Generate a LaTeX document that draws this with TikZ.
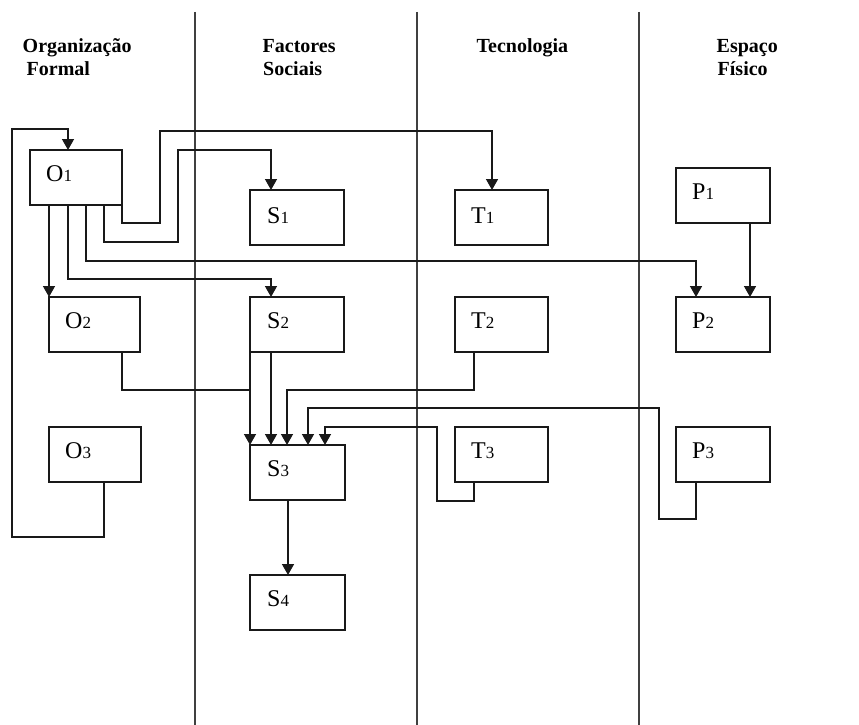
\documentclass[tikz,border=0pt]{standalone}
\usepackage{fontspec}
\setmainfont{Liberation Serif}
\usetikzlibrary{calc,arrows.meta}

% small digit set on the letter's baseline, as in O1, S2, ...
\newcommand{\subdig}[1]{{\fontsize{17}{17}\selectfont #1}}

\tikzset{
  box/.style={draw=black!90, line width=1.4pt, inner sep=0pt, outer sep=0pt,
              minimum height=55pt, anchor=north west},
  lbl/.style={inner sep=0pt, anchor=base west, font=\fontsize{24}{24}\selectfont},
  head/.style={inner sep=0pt, anchor=base west, font=\fontsize{20}{23}\selectfont\bfseries},
  conn/.style={draw=black!90, line width=1.5pt},
  arr/.style={conn, -{Triangle[width=12pt,length=11pt]}},
  lane/.style={draw=black!75, line width=1.6pt}
}

\begin{document}
\begin{tikzpicture}[x=1pt,y=-1pt]
\useasboundingbox (0,0) rectangle (859,725);

% lane separators
\coordinate (L1t) at (195,12);  \coordinate (L1b) at (195,725);
\coordinate (L2t) at (417,12);  \coordinate (L2b) at (417,725);
\coordinate (L3t) at (639,12);  \coordinate (L3b) at (639,725);
\draw[lane] (L1t) -- (L1b);
\draw[lane] (L2t) -- (L2b);
\draw[lane] (L3t) -- (L3b);

% lane headings
\node[head] (h1a) at (22.5,52.3) {Organização};
\node[head] (h1b) at (26.5,75) {Formal};
\node[head] (h2a) at (262.5,52.3) {Factores};
\node[head] (h2b) at (263,75) {Sociais};
\node[head] (h3a) at (476.5,52.3) {Tecnologia};
\node[head] (h4a) at (716.5,52.3) {Espaço};
\node[head] (h4b) at (717.5,75) {Físico};

% boxes
\node[box, minimum width=92pt] (O1) at (30,150) {};
\node[box, minimum width=91pt] (O2) at (49,297) {};
\node[box, minimum width=92pt] (O3) at (49,427) {};
\node[box, minimum width=94pt] (S1) at (250,190) {};
\node[box, minimum width=94pt] (S2) at (250,297) {};
\node[box, minimum width=95pt] (S3) at (250,445) {};
\node[box, minimum width=95pt] (S4) at (250,575) {};
\node[box, minimum width=93pt] (T1) at (455,190) {};
\node[box, minimum width=93pt] (T2) at (455,297) {};
\node[box, minimum width=93pt] (T3) at (455,427) {};
\node[box, minimum width=94pt] (P1) at (676,168) {};
\node[box, minimum width=94pt] (P2) at (676,297) {};
\node[box, minimum width=94pt] (P3) at (676,427) {};

% box labels
\node[lbl] (O1t) at ($(O1.north west)+(16,31)$) {O\subdig{1}};
\node[lbl] (O2t) at ($(O2.north west)+(16,31)$) {O\subdig{2}};
\node[lbl] (O3t) at ($(O3.north west)+(16,31)$) {O\subdig{3}};
\node[lbl] (S1t) at ($(S1.north west)+(17,33)$) {S\subdig{1}};
\node[lbl] (S2t) at ($(S2.north west)+(17,31)$) {S\subdig{2}};
\node[lbl] (S3t) at ($(S3.north west)+(17,31)$) {S\subdig{3}};
\node[lbl] (S4t) at ($(S4.north west)+(17,31)$) {S\subdig{4}};
\node[lbl] (T1t) at ($(T1.north west)+(16,33)$) {T\subdig{1}};
\node[lbl] (T2t) at ($(T2.north west)+(16,31)$) {T\subdig{2}};
\node[lbl] (T3t) at ($(T3.north west)+(16,31)$) {T\subdig{3}};
\node[lbl] (P1t) at ($(P1.north west)+(16,31)$) {P\subdig{1}};
\node[lbl] (P2t) at ($(P2.north west)+(16,31)$) {P\subdig{2}};
\node[lbl] (P3t) at ($(P3.north west)+(16,31)$) {P\subdig{3}};

% feedback from O3 round to the top of O1
\draw[arr] ($(O3.south west)+(55,0)$) |- (12,537) |- (68,129)
           -- ($(O1.north west)+(38,0)$);

% links leaving O1
\draw[arr] (O1.south east) |- (160,223) -- (160,131)
           -| ($(T1.north west)+(37,0)$);
\draw[arr] ($(O1.south west)+(74,0)$) |- (178,242) -- (178,150)
           -| ($(S1.north west)+(21,0)$);
\draw[arr] ($(O1.south west)+(56,0)$) |- (696,261)
           -- ($(P2.north west)+(20,0)$);
\draw[arr] ($(O1.south west)+(38,0)$) |- (271,279)
           -- ($(S2.north west)+(21,0)$);
\draw[arr] ($(O1.south west)+(19,0)$) -- (O2.north west);

% P1 to P2
\draw[arr] ($(P1.south west)+(74,0)$) -- ($(P2.north west)+(74,0)$);

% links converging on S3
\draw[arr] (S2.south west) -- (S3.north west);
\draw[conn] ($(O2.south west)+(73,0)$) |- (250,390);
\draw[arr] ($(S2.south west)+(21,0)$) -- ($(S3.north west)+(21,0)$);
\draw[arr] ($(T2.south west)+(19,0)$) |- (287,390)
           -- ($(S3.north west)+(37,0)$);
\draw[arr] ($(P3.south west)+(20,0)$) |- (659,519) |- (308,408)
           -- ($(S3.north west)+(58,0)$);
\draw[arr] ($(T3.south west)+(19,0)$) |- (437,501) |- (325,427)
           -- ($(S3.north west)+(75,0)$);

% S3 to S4
\draw[arr] ($(S3.south west)+(38,0)$) -- ($(S4.north west)+(38,0)$);
\end{tikzpicture}
\end{document}
